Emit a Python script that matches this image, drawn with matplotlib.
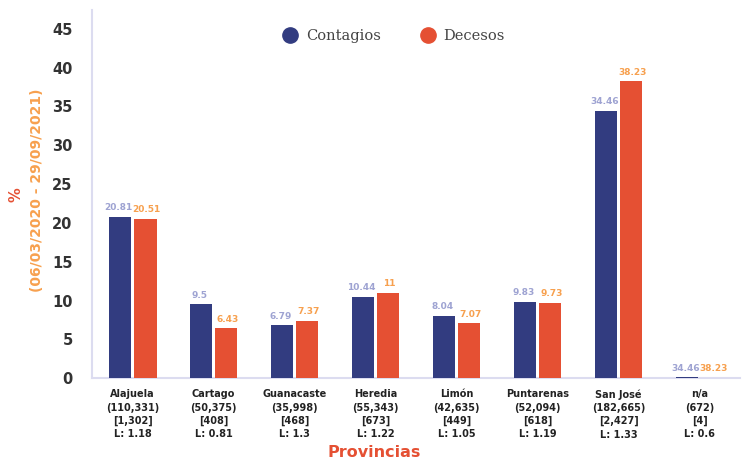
import numpy as np
import matplotlib.pyplot as plt
from matplotlib.lines import Line2D

# Datos
provincias = ['Alajuela', 'Cartago', 'Guanacaste', 'Heredia', 'Limón',
              'Puntarenas', 'San José', 'n/a']
casos = ['110,331', '50,375', '35,998', '55,343', '42,635', '52,094', '182,665', '672']
muertes = ['1,302', '408', '468', '673', '449', '618', '2,427', '4']
letalidad = ['1.18', '0.81', '1.3', '1.22', '1.05', '1.19', '1.33', '0.6']

contagios = [20.81, 9.5, 6.79, 10.44, 8.04, 9.83, 34.46, 0.13]
decesos = [20.51, 6.43, 7.37, 11, 7.07, 9.73, 38.23, 0.06]
etiquetas_contagios = ['20.81', '9.5', '6.79', '10.44', '8.04', '9.83', '34.46', '34.46']
etiquetas_decesos = ['20.51', '6.43', '7.37', '11', '7.07', '9.73', '38.23', '38.23']

azul = '#323c80'
rojo = '#e55033'
naranja = '#f7a04e'
lila = '#9ea3d2'

fig = plt.figure(figsize=(7.49, 4.59), dpi=100)
ax = fig.add_axes([0.123, 0.176, 0.865, 0.802])

x = np.arange(len(provincias))
w = 0.28
b1 = ax.bar(x - 0.155, contagios, w, color=azul, label='Contagios', zorder=3)
b2 = ax.bar(x + 0.155, decesos, w, color=rojo, label='Decesos', zorder=3)

for rect, t in zip(b1, etiquetas_contagios):
    ax.text(rect.get_x() + rect.get_width() / 2 - 0.02, rect.get_height() + 0.6, t,
            ha='center', va='bottom', fontsize=6.5, fontweight='bold', color=lila)
for rect, t in zip(b2, etiquetas_decesos):
    ax.text(rect.get_x() + rect.get_width() / 2 + 0.02, rect.get_height() + 0.6, t,
            ha='center', va='bottom', fontsize=6.5, fontweight='bold', color=naranja)

ax.set_xlim(-0.5, 7.5)
ax.set_ylim(0, 47.4)
ax.set_yticks(range(0, 50, 5))
ax.tick_params(axis='y', length=0, pad=14, labelsize=10.5, labelcolor='#333333')
for lab in ax.get_yticklabels():
    lab.set_fontweight('bold')

ticklabels = [f'{p}\n({c})\n[{m}]\nL: {l}' for p, c, m, l in zip(provincias, casos, muertes, letalidad)]
ax.set_xticks(x)
ax.set_xticklabels(ticklabels, fontsize=7, fontweight='bold', color='#222222', linespacing=1.4)
ax.tick_params(axis='x', length=0, pad=8)

for s in ['top', 'right']:
    ax.spines[s].set_visible(False)
ax.spines['left'].set_color('#dcdcf0')
ax.spines['bottom'].set_color('#dcdcf0')
ax.spines['left'].set_linewidth(1.5)
ax.spines['bottom'].set_linewidth(1.5)

fig.text(0.5, 0.015, 'Provincias', ha='center', va='center', fontsize=11.5,
         fontweight='bold', color=rojo)
fig.text(0.022, 0.575, '%', rotation=90, ha='center', va='center', fontsize=10.5,
         fontweight='bold', color=rojo)
fig.text(0.05, 0.585, '(06/03/2020 - 29/09/2021)', rotation=90, ha='center', va='center',
         fontsize=10, fontweight='bold', color=naranja)

handles = [Line2D([], [], marker='o', ls='', color=azul, markersize=11),
           Line2D([], [], marker='o', ls='', color=rojo, markersize=11)]
ax.legend(handles, ['Contagios', 'Decesos'], loc='upper center', bbox_to_anchor=(0.46, 0.985),
          ncol=2, frameon=False, prop={'family': 'DejaVu Serif', 'size': 10.5},
          handletextpad=0.1, columnspacing=2.2, labelcolor='#444444')

fig.savefig('out.png', dpi=100)
